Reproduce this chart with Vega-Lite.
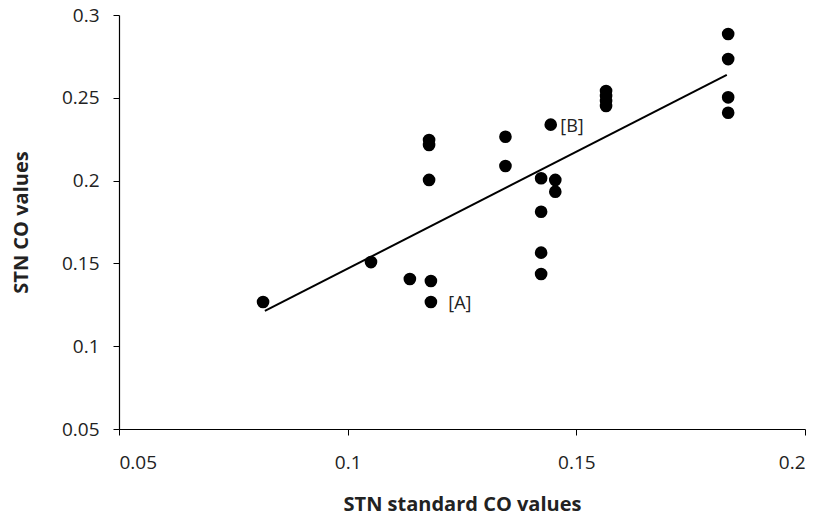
{
  "$schema": "https://vega.github.io/schema/vega-lite/v6.json",
  "autosize": "none",
  "width": 686,
  "height": 414,
  "padding": {"left": 119, "top": 15, "right": 20, "bottom": 91},
  "background": "white",
  "config": {
    "view": {"stroke": null},
    "font": "Open Sans",
    "axis": {"grid": false, "domainColor": "#000", "tickColor": "#000", "labelColor": "#222", "titleColor": "#222", "labelFont": "Open Sans", "titleFont": "Open Sans", "labelFontSize": 19, "titleFontSize": 20, "titleFontWeight": "bold", "tickSize": 6, "domainWidth": 1.2}
  },
  "datasets": {
    "pts": [
      {"std": 0.0815, "co": 0.1267},
      {"std": 0.1051, "co": 0.1508},
      {"std": 0.1136, "co": 0.1406},
      {"std": 0.1182, "co": 0.1394},
      {"std": 0.1182, "co": 0.1267},
      {"std": 0.1178, "co": 0.2245},
      {"std": 0.1178, "co": 0.2215},
      {"std": 0.1178, "co": 0.2004},
      {"std": 0.1345, "co": 0.2265},
      {"std": 0.1345, "co": 0.2088},
      {"std": 0.1444, "co": 0.2338},
      {"std": 0.1423, "co": 0.2014},
      {"std": 0.1423, "co": 0.1812},
      {"std": 0.1423, "co": 0.1565},
      {"std": 0.1423, "co": 0.1436},
      {"std": 0.1454, "co": 0.2004},
      {"std": 0.1454, "co": 0.1933},
      {"std": 0.1565, "co": 0.2541},
      {"std": 0.1565, "co": 0.2511},
      {"std": 0.1565, "co": 0.2481},
      {"std": 0.1565, "co": 0.2451},
      {"std": 0.1832, "co": 0.2885},
      {"std": 0.1832, "co": 0.2734},
      {"std": 0.1832, "co": 0.2503},
      {"std": 0.1832, "co": 0.2410}
    ],
    "fit": [
      {"std": 0.0819, "co": 0.1213},
      {"std": 0.1829, "co": 0.2638}
    ],
    "labels": [
      {"std": 0.1220, "co": 0.1255, "label": "[A]"},
      {"std": 0.1465, "co": 0.2326, "label": "[B]"}
    ]
  },
  "layer": [
    {
      "data": {"name": "fit"},
      "mark": {"type": "line", "color": "#000", "strokeWidth": 2},
      "encoding": {
        "x": {"field": "std", "type": "quantitative", "scale": {"domain": [0.05, 0.2], "nice": false, "zero": false}, "axis": {"values": [0.05, 0.1, 0.15, 0.2], "format": "~g", "title": "STN standard CO values", "labelPadding": 18, "titlePadding": 22}},
        "y": {"field": "co", "type": "quantitative", "scale": {"domain": [0.05, 0.3], "nice": false, "zero": false}, "axis": {"values": [0.05, 0.1, 0.15, 0.2, 0.25, 0.3], "format": "~g", "title": "STN CO values", "labelPadding": 14, "titlePadding": 30}}
      }
    },
    {
      "data": {"name": "pts"},
      "mark": {"type": "point", "filled": true, "shape": "circle", "color": "#000", "opacity": 1, "size": 160},
      "encoding": {
        "x": {"field": "std", "type": "quantitative"},
        "y": {"field": "co", "type": "quantitative"}
      }
    },
    {
      "data": {"name": "labels"},
      "mark": {"type": "text", "align": "left", "baseline": "middle", "fontSize": 18, "font": "Open Sans", "color": "#222"},
      "encoding": {
        "x": {"field": "std", "type": "quantitative"},
        "y": {"field": "co", "type": "quantitative"},
        "text": {"field": "label"}
      }
    }
  ]
}
